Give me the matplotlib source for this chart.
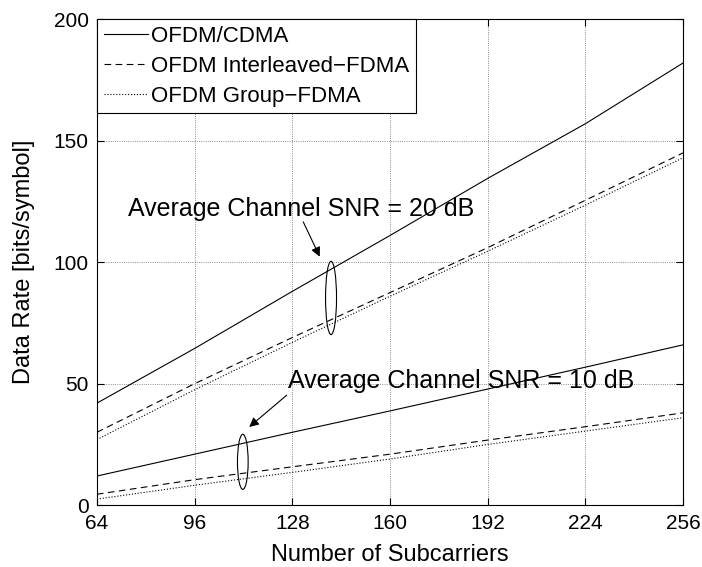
import matplotlib.pyplot as plt
import numpy as np
from matplotlib.patches import Ellipse

# subcarrier counts
n_sub = [64, 96, 128, 160, 192, 224, 256]

# SNR = 20 dB
cdma_20 = [42, 64.5, 88, 111, 134.5, 157, 182]
ifdma_20 = [30, 50, 69, 87.5, 106, 125.5, 145]
gfdma_20 = [27, 47.5, 67, 86, 104.5, 123.5, 143]

# SNR = 10 dB
cdma_10 = [12, 21, 30, 38.8, 47.8, 56.8, 66]
ifdma_10 = [4.5, 10.5, 15.8, 21, 26.8, 32.3, 38]
gfdma_10 = [2.5, 8.2, 13.5, 19, 25, 30.5, 36]

x_ticks = [64, 96, 128, 160, 192, 224, 256]
y_ticks = [0, 50, 100, 150, 200]

plt.rcParams['font.family'] = ['Liberation Sans', 'DejaVu Sans']

fig = plt.figure(figsize=(7.02, 5.67), dpi=100)
ax = fig.add_axes([0.138, 0.109, 0.835, 0.857])

lw = 0.8
ax.plot(n_sub, cdma_20, 'k-', lw=lw, label="OFDM/CDMA")
ax.plot(n_sub, ifdma_20, 'k--', lw=lw, dashes=(6, 4), label="OFDM Interleaved\u2212FDMA")
ax.plot(n_sub, gfdma_20, 'k:', lw=lw, label="OFDM Group\u2212FDMA")
ax.plot(n_sub, cdma_10, 'k-', lw=lw)
ax.plot(n_sub, ifdma_10, 'k--', lw=lw, dashes=(6, 4))
ax.plot(n_sub, gfdma_10, 'k:', lw=lw)

# ellipses marking the curve groups
ax.add_patch(Ellipse((140.7, 85.3), 3.6, 30.2, fill=False, ec='k', lw=lw))
ax.add_patch(Ellipse((111.8, 17.85), 3.5, 22.7, fill=False, ec='k', lw=lw))

arrow = dict(arrowstyle='-|>', color='k', lw=0.8, mutation_scale=14,
             shrinkA=0, shrinkB=0)
ax.annotate("", xy=(137, 102.3), xytext=(131.6, 116.6), arrowprops=arrow)
ax.annotate("", xy=(113.9, 32.2), xytext=(126.2, 45.3), arrowprops=arrow)

ax.text(74.2, 118.9, "Average Channel SNR = 20 dB", fontsize=18, va='baseline', ha='left')
ax.text(126.6, 48.1, "Average Channel SNR = 10 dB", fontsize=18, va='baseline', ha='left')

ax.set_xlim(64, 256)
ax.set_ylim(0, 200)
ax.set_xticks(x_ticks)
ax.set_yticks(y_ticks)
ax.tick_params(direction='in', top=True, right=True, labelsize=15, length=5, pad=6)
ax.grid(True, linestyle=':', color='k', lw=0.6, alpha=0.6)
ax.set_xlabel("Number of Subcarriers", fontsize=17, labelpad=8)
ax.set_ylabel("Data Rate [bits/symbol]", fontsize=17, labelpad=13)

leg = ax.legend(loc='upper left', fontsize=16, borderaxespad=0, fancybox=False,
                edgecolor='k', framealpha=1, handlelength=2.0, handletextpad=0.15,
                labelspacing=0.4, borderpad=0.3)
leg.get_frame().set_linewidth(0.8)

plt.savefig("out.png")
